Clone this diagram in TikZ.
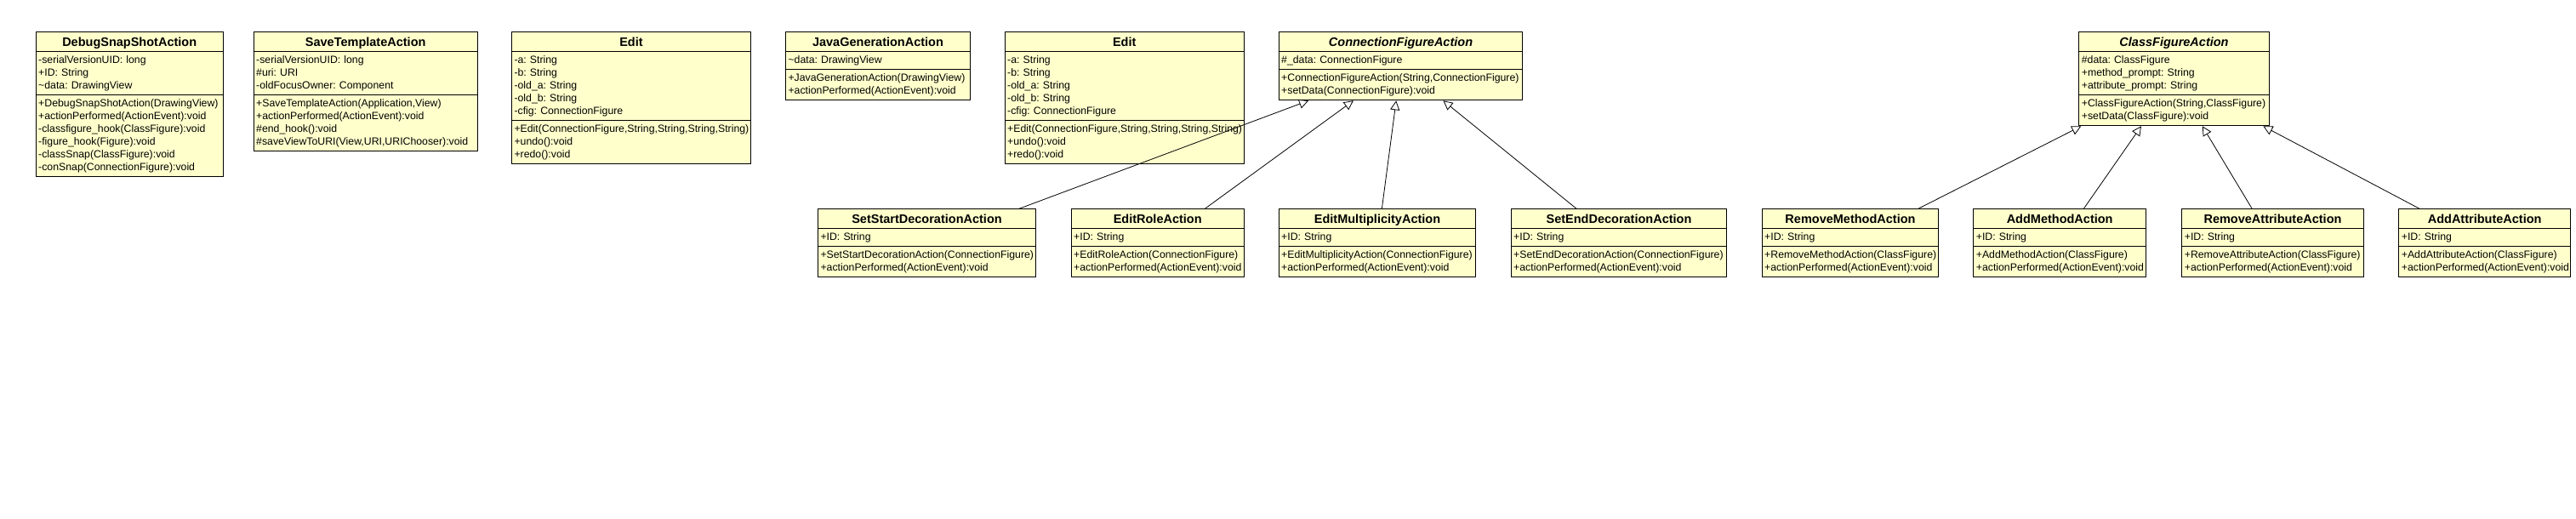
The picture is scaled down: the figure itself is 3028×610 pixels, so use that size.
\documentclass[tikz,border=0pt]{standalone}
\usepackage{fontspec}
\setmainfont{Liberation Sans}
\usetikzlibrary{shapes.multipart,arrows.meta}

\definecolor{classfill}{RGB}{255,255,204}
\newcommand\rowstrut{\rule[-4pt]{0pt}{15pt}}
\newcommand\titlestrut{\rule[-3.5pt]{0pt}{17pt}}
\newcommand\classtitle[1]{\centering\fontsize{14.5}{17}\selectfont\bfseries\titlestrut#1\par}
\newcommand\abstracttitle[1]{\classtitle{\itshape#1}}
\newcommand\members[1]{\rowstrut#1\rowstrut}

\tikzset{
  umlclass/.style={rectangle split, rectangle split parts=3, draw, line width=1pt,
    fill=classfill, anchor=north west, inner xsep=3pt, inner ysep=2.5pt,
    align=left, font=\fontsize{12.3}{15}\selectfont\frenchspacing},
  extends/.style={-{Triangle[open,length=11pt,width=11pt]}, line width=0.8pt}
}

\begin{document}
\begin{tikzpicture}[x=1pt,y=1pt]
  \path[use as bounding box, fill=white] (0,0) rectangle (3028,-610);

  % premiere rangee
  \node[umlclass, text width=214pt] (debugsnap) at (41.7,-37.3) {\classtitle{DebugSnapShotAction}
    \nodepart{second}\members{-serialVersionUID: long\\+ID: String\\\textasciitilde data: DrawingView}
    \nodepart{third}\members{+DebugSnapShotAction(DrawingView)\\+actionPerformed(ActionEvent):void\\-classfigure\_hook(ClassFigure):void\\-figure\_hook(Figure):void\\-classSnap(ClassFigure):void\\-conSnap(ConnectionFigure):void}};
  \node[umlclass, text width=257pt] (savetemplate) at (297.7,-37.3) {\classtitle{SaveTemplateAction}
    \nodepart{second}\members{-serialVersionUID: long\\\#uri: URI\\-oldFocusOwner: Component}
    \nodepart{third}\members{+SaveTemplateAction(Application,View)\\+actionPerformed(ActionEvent):void\\\#end\_hook():void\\\#saveViewToURI(View,URI,URIChooser):void}};
  \node[umlclass, text width=275pt] (editone) at (601,-37.3) {\classtitle{Edit}
    \nodepart{second}\members{-a: String\\-b: String\\-old\_a: String\\-old\_b: String\\-cfig: ConnectionFigure}
    \nodepart{third}\members{+Edit(ConnectionFigure,String,String,String,String)\\+undo():void\\+redo():void}};
  \node[umlclass, text width=211pt] (javagen) at (923,-37.3) {\classtitle{JavaGenerationAction}
    \nodepart{second}\members{\textasciitilde data: DrawingView}
    \nodepart{third}\members{+JavaGenerationAction(DrawingView)\\+actionPerformed(ActionEvent):void}};
  \node[umlclass, text width=275pt] (edittwo) at (1180.7,-37.3) {\classtitle{Edit}
    \nodepart{second}\members{-a: String\\-b: String\\-old\_a: String\\-old\_b: String\\-cfig: ConnectionFigure}
    \nodepart{third}\members{+Edit(ConnectionFigure,String,String,String,String)\\+undo():void\\+redo():void}};
  \node[umlclass, text width=280.6pt] (connfig) at (1502.7,-37.3) {\abstracttitle{ConnectionFigureAction}
    \nodepart{second}\members{\#\_data: ConnectionFigure}
    \nodepart{third}\members{+ConnectionFigureAction(String,ConnectionFigure)\\+setData(ConnectionFigure):void}};
  \node[umlclass, text width=217.4pt] (classfig) at (2443.3,-37.3) {\abstracttitle{ClassFigureAction}
    \nodepart{second}\members{\#data: ClassFigure\\+method\_prompt: String\\+attribute\_prompt: String}
    \nodepart{third}\members{+ClassFigureAction(String,ClassFigure)\\+setData(ClassFigure):void}};

  % deuxieme rangee
  \node[umlclass, text width=250pt] (setstart) at (961,-245.3) {\classtitle{SetStartDecorationAction}
    \nodepart{second}\members{+ID: String}
    \nodepart{third}\members{+SetStartDecorationAction(ConnectionFigure)\\+actionPerformed(ActionEvent):void}};
  \node[umlclass, text width=197pt] (editrole) at (1258.7,-245.3) {\classtitle{EditRoleAction}
    \nodepart{second}\members{+ID: String}
    \nodepart{third}\members{+EditRoleAction(ConnectionFigure)\\+actionPerformed(ActionEvent):void}};
  \node[umlclass, text width=225.6pt] (editmult) at (1502.7,-245.3) {\classtitle{EditMultiplicityAction}
    \nodepart{second}\members{+ID: String}
    \nodepart{third}\members{+EditMultiplicityAction(ConnectionFigure)\\+actionPerformed(ActionEvent):void}};
  \node[umlclass, text width=247.6pt] (setend) at (1775.7,-245.3) {\classtitle{SetEndDecorationAction}
    \nodepart{second}\members{+ID: String}
    \nodepart{third}\members{+SetEndDecorationAction(ConnectionFigure)\\+actionPerformed(ActionEvent):void}};
  \node[umlclass, text width=201.6pt] (removemethod) at (2070.7,-245.3) {\classtitle{RemoveMethodAction}
    \nodepart{second}\members{+ID: String}
    \nodepart{third}\members{+RemoveMethodAction(ClassFigure)\\+actionPerformed(ActionEvent):void}};
  \node[umlclass, text width=196.7pt] (addmethod) at (2319.3,-245.3) {\classtitle{AddMethodAction}
    \nodepart{second}\members{+ID: String}
    \nodepart{third}\members{+AddMethodAction(ClassFigure)\\+actionPerformed(ActionEvent):void}};
  \node[umlclass, text width=207.4pt] (removeattr) at (2564.3,-245.3) {\classtitle{RemoveAttributeAction}
    \nodepart{second}\members{+ID: String}
    \nodepart{third}\members{+RemoveAttributeAction(ClassFigure)\\+actionPerformed(ActionEvent):void}};
  \node[umlclass, text width=195.7pt] (addattr) at (2819.3,-245.3) {\classtitle{AddAttributeAction}
    \nodepart{second}\members{+ID: String}
    \nodepart{third}\members{+AddAttributeAction(ClassFigure)\\+actionPerformed(ActionEvent):void}};

  % heritage
  \draw[extends] (setstart) -- (connfig);
  \draw[extends] (editrole) -- (connfig);
  \draw[extends] (editmult) -- (connfig);
  \draw[extends] (setend) -- (connfig);
  \draw[extends] (removemethod) -- (classfig);
  \draw[extends] (addmethod) -- (classfig);
  \draw[extends] (removeattr) -- (classfig);
  \draw[extends] (addattr) -- (classfig);
\end{tikzpicture}
\end{document}
